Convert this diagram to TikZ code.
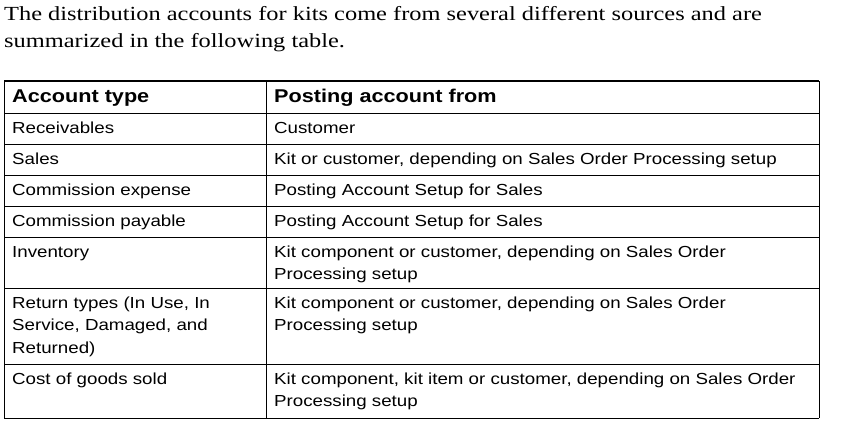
\documentclass[tikz,border=0pt]{standalone}
\usepackage{fontspec}
\setmainfont[FakeStretch=1.22]{Liberation Serif}
\newfontfamily\cellf[FakeStretch=1.17]{Liberation Sans}
\newcommand\mlines[1]{\begin{tabular}[t]{@{}l@{}}#1\end{tabular}}
\begin{document}
\begin{tikzpicture}[x=1pt,y=-1pt,
  cell/.style={anchor=base west,inner sep=0pt,font=\cellf\fontsize{16}{22.5}\selectfont},
  head/.style={anchor=base west,inner sep=0pt,font=\cellf\bfseries\fontsize{18.5}{22}\selectfont},
  grid/.style={line width=1pt}]
\useasboundingbox (0,0) rectangle (844,426);
\node[anchor=base west,inner sep=0pt,font=\fontsize{20}{27}\selectfont] (title) at (4,20)
 {\mlines{The distribution accounts for kits come from several different sources and are\\summarized in the following table.}};
\draw[grid,line width=1.3pt] (4,81) -- (819,81);
\foreach \y in {113,144,175,206,237,288,364} \draw[grid] (4,\y) -- (819,\y);
\draw[grid] (4,418) -- (819,418);
\draw[grid] (4,81) -- (4,418);
\draw[grid] (266,81) -- (266,418);
\draw[grid] (819,81) -- (819,418);
\node[head] (h1) at (12,102) {Account type};
\node[head] (h2) at (274,102) {Posting account from};
\node[cell] (a1) at (12,133) {Receivables};
\node[cell] (b1) at (274,133) {Customer};
\node[cell] (a2) at (12,164) {Sales};
\node[cell] (b2) at (274,164) {Kit or customer, depending on Sales Order Processing setup};
\node[cell] (a3) at (12,195) {Commission expense};
\node[cell] (b3) at (274,195) {Posting Account Setup for Sales};
\node[cell] (a4) at (12,226) {Commission payable};
\node[cell] (b4) at (274,226) {Posting Account Setup for Sales};
\node[cell] (a5) at (12,257) {Inventory};
\node[cell] (b5) at (274,257) {\mlines{Kit component or customer, depending on Sales Order\\Processing setup}};
\node[cell] (a6) at (12,308) {\mlines{Return types (In Use, In\\Service, Damaged, and\\Returned)}};
\node[cell] (b6) at (274,308) {\mlines{Kit component or customer, depending on Sales Order\\Processing setup}};
\node[cell] (a7) at (12,384) {Cost of goods sold};
\node[cell] (b7) at (274,384) {\mlines{Kit component, kit item or customer, depending on Sales Order\\Processing setup}};
\end{tikzpicture}
\end{document}
